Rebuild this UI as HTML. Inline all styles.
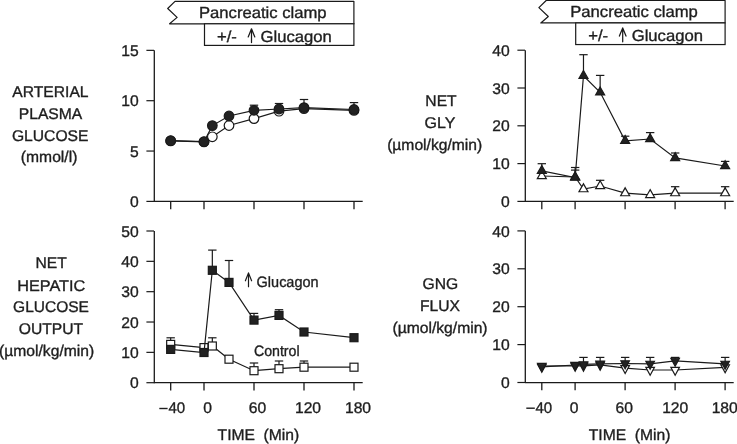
<!DOCTYPE html>
<html><head><meta charset="utf-8"><title>Pancreatic clamp figure</title>
<style>
html,body{margin:0;padding:0;background:#fff;}
body{width:737px;height:444px;overflow:hidden;}
svg{display:block;will-change:transform;font-family:"Liberation Sans", sans-serif;text-rendering:geometricPrecision;}
text{stroke:#1e1e1e;stroke-width:0.35px;}
</style></head>
<body>
<svg width="737" height="444" viewBox="0 0 737 444">
<rect width="737" height="444" fill="#fff"/>
<path d="M175.00,1.35 L353.90,1.35 L353.90,23.80 L169.60,23.80 L177.10,17.40 L167.70,8.50 Z" fill="#fff" stroke="#1a1a1a" stroke-width="1.2" stroke-linejoin="round"/>
<rect x="204.50" y="23.80" width="149.40" height="21.60" fill="#fff" stroke="#1a1a1a" stroke-width="1.2"/>
<text x="0" y="0" transform="translate(199.00,17.60) scale(1.04,1)" font-size="16.0" text-anchor="start" fill="#1e1e1e">Pancreatic clamp</text>
<text x="0" y="0" transform="translate(217.00,41.60) scale(1.04,1)" font-size="16.0" text-anchor="start" fill="#1e1e1e">+/-</text>
<path d="M251.50,42.60 L251.50,29.40 M248.20,36.90 L251.50,28.80 L254.80,36.90" fill="none" stroke="#1a1a1a" stroke-width="1.25" stroke-linejoin="round" stroke-linecap="round"/>
<text x="0" y="0" transform="translate(260.50,41.60) scale(1.04,1)" font-size="16.0" text-anchor="start" fill="#1e1e1e">Glucagon</text>
<path d="M546.20,0.50 L725.10,0.50 L725.10,22.95 L540.80,22.95 L548.30,16.55 L538.90,7.65 Z" fill="#fff" stroke="#1a1a1a" stroke-width="1.2" stroke-linejoin="round"/>
<rect x="575.70" y="22.95" width="149.40" height="21.60" fill="#fff" stroke="#1a1a1a" stroke-width="1.2"/>
<text x="0" y="0" transform="translate(570.20,16.75) scale(1.04,1)" font-size="16.0" text-anchor="start" fill="#1e1e1e">Pancreatic clamp</text>
<text x="0" y="0" transform="translate(588.20,40.75) scale(1.04,1)" font-size="16.0" text-anchor="start" fill="#1e1e1e">+/-</text>
<path d="M622.70,41.75 L622.70,28.55 M619.40,36.05 L622.70,27.95 L626.00,36.05" fill="none" stroke="#1a1a1a" stroke-width="1.25" stroke-linejoin="round" stroke-linecap="round"/>
<text x="0" y="0" transform="translate(631.70,40.75) scale(1.04,1)" font-size="16.0" text-anchor="start" fill="#1e1e1e">Glucagon</text>
<line x1="154.30" y1="50.35" x2="154.30" y2="202.00" stroke="#1a1a1a" stroke-width="1.3"/>
<line x1="154.00" y1="201.40" x2="362.70" y2="201.40" stroke="#1a1a1a" stroke-width="1.25"/>
<line x1="146.40" y1="201.40" x2="154.00" y2="201.40" stroke="#1a1a1a" stroke-width="1.2"/>
<text x="0" y="0" transform="translate(138.70,207.00) scale(1.01,1)" font-size="15.5" text-anchor="end" fill="#1e1e1e">0</text>
<line x1="146.40" y1="151.05" x2="154.00" y2="151.05" stroke="#1a1a1a" stroke-width="1.2"/>
<text x="0" y="0" transform="translate(138.70,156.65) scale(1.01,1)" font-size="15.5" text-anchor="end" fill="#1e1e1e">5</text>
<line x1="146.40" y1="100.70" x2="154.00" y2="100.70" stroke="#1a1a1a" stroke-width="1.2"/>
<text x="0" y="0" transform="translate(138.70,106.30) scale(1.01,1)" font-size="15.5" text-anchor="end" fill="#1e1e1e">10</text>
<line x1="146.40" y1="50.35" x2="154.00" y2="50.35" stroke="#1a1a1a" stroke-width="1.2"/>
<text x="0" y="0" transform="translate(138.70,55.95) scale(1.01,1)" font-size="15.5" text-anchor="end" fill="#1e1e1e">15</text>
<line x1="170.70" y1="201.40" x2="170.70" y2="209.20" stroke="#1a1a1a" stroke-width="1.3"/>
<line x1="204.00" y1="201.40" x2="204.00" y2="209.20" stroke="#1a1a1a" stroke-width="1.3"/>
<line x1="254.00" y1="201.40" x2="254.00" y2="209.20" stroke="#1a1a1a" stroke-width="1.3"/>
<line x1="304.00" y1="201.40" x2="304.00" y2="209.20" stroke="#1a1a1a" stroke-width="1.3"/>
<line x1="354.00" y1="201.40" x2="354.00" y2="209.20" stroke="#1a1a1a" stroke-width="1.3"/>
<line x1="154.30" y1="231.00" x2="154.30" y2="383.30" stroke="#1a1a1a" stroke-width="1.3"/>
<line x1="154.00" y1="382.70" x2="362.70" y2="382.70" stroke="#1a1a1a" stroke-width="1.25"/>
<line x1="146.40" y1="382.70" x2="154.00" y2="382.70" stroke="#1a1a1a" stroke-width="1.2"/>
<text x="0" y="0" transform="translate(138.70,388.30) scale(1.01,1)" font-size="15.5" text-anchor="end" fill="#1e1e1e">0</text>
<line x1="146.40" y1="352.36" x2="154.00" y2="352.36" stroke="#1a1a1a" stroke-width="1.2"/>
<text x="0" y="0" transform="translate(138.70,357.96) scale(1.01,1)" font-size="15.5" text-anchor="end" fill="#1e1e1e">10</text>
<line x1="146.40" y1="322.02" x2="154.00" y2="322.02" stroke="#1a1a1a" stroke-width="1.2"/>
<text x="0" y="0" transform="translate(138.70,327.62) scale(1.01,1)" font-size="15.5" text-anchor="end" fill="#1e1e1e">20</text>
<line x1="146.40" y1="291.68" x2="154.00" y2="291.68" stroke="#1a1a1a" stroke-width="1.2"/>
<text x="0" y="0" transform="translate(138.70,297.28) scale(1.01,1)" font-size="15.5" text-anchor="end" fill="#1e1e1e">30</text>
<line x1="146.40" y1="261.34" x2="154.00" y2="261.34" stroke="#1a1a1a" stroke-width="1.2"/>
<text x="0" y="0" transform="translate(138.70,266.94) scale(1.01,1)" font-size="15.5" text-anchor="end" fill="#1e1e1e">40</text>
<line x1="146.40" y1="231.00" x2="154.00" y2="231.00" stroke="#1a1a1a" stroke-width="1.2"/>
<text x="0" y="0" transform="translate(138.70,236.60) scale(1.01,1)" font-size="15.5" text-anchor="end" fill="#1e1e1e">50</text>
<line x1="170.70" y1="382.70" x2="170.70" y2="390.50" stroke="#1a1a1a" stroke-width="1.3"/>
<line x1="204.00" y1="382.70" x2="204.00" y2="390.50" stroke="#1a1a1a" stroke-width="1.3"/>
<line x1="254.00" y1="382.70" x2="254.00" y2="390.50" stroke="#1a1a1a" stroke-width="1.3"/>
<line x1="304.00" y1="382.70" x2="304.00" y2="390.50" stroke="#1a1a1a" stroke-width="1.3"/>
<line x1="354.00" y1="382.70" x2="354.00" y2="390.50" stroke="#1a1a1a" stroke-width="1.3"/>
<line x1="525.30" y1="50.20" x2="525.30" y2="202.00" stroke="#1a1a1a" stroke-width="1.3"/>
<line x1="525.00" y1="201.40" x2="733.70" y2="201.40" stroke="#1a1a1a" stroke-width="1.25"/>
<line x1="517.40" y1="201.40" x2="525.00" y2="201.40" stroke="#1a1a1a" stroke-width="1.2"/>
<text x="0" y="0" transform="translate(509.70,207.00) scale(1.01,1)" font-size="15.5" text-anchor="end" fill="#1e1e1e">0</text>
<line x1="517.40" y1="163.60" x2="525.00" y2="163.60" stroke="#1a1a1a" stroke-width="1.2"/>
<text x="0" y="0" transform="translate(509.70,169.20) scale(1.01,1)" font-size="15.5" text-anchor="end" fill="#1e1e1e">10</text>
<line x1="517.40" y1="125.80" x2="525.00" y2="125.80" stroke="#1a1a1a" stroke-width="1.2"/>
<text x="0" y="0" transform="translate(509.70,131.40) scale(1.01,1)" font-size="15.5" text-anchor="end" fill="#1e1e1e">20</text>
<line x1="517.40" y1="88.00" x2="525.00" y2="88.00" stroke="#1a1a1a" stroke-width="1.2"/>
<text x="0" y="0" transform="translate(509.70,93.60) scale(1.01,1)" font-size="15.5" text-anchor="end" fill="#1e1e1e">30</text>
<line x1="517.40" y1="50.20" x2="525.00" y2="50.20" stroke="#1a1a1a" stroke-width="1.2"/>
<text x="0" y="0" transform="translate(509.70,55.80) scale(1.01,1)" font-size="15.5" text-anchor="end" fill="#1e1e1e">40</text>
<line x1="541.80" y1="201.40" x2="541.80" y2="209.20" stroke="#1a1a1a" stroke-width="1.3"/>
<line x1="575.10" y1="201.40" x2="575.10" y2="209.20" stroke="#1a1a1a" stroke-width="1.3"/>
<line x1="625.10" y1="201.40" x2="625.10" y2="209.20" stroke="#1a1a1a" stroke-width="1.3"/>
<line x1="675.10" y1="201.40" x2="675.10" y2="209.20" stroke="#1a1a1a" stroke-width="1.3"/>
<line x1="725.10" y1="201.40" x2="725.10" y2="209.20" stroke="#1a1a1a" stroke-width="1.3"/>
<line x1="525.30" y1="230.80" x2="525.30" y2="383.10" stroke="#1a1a1a" stroke-width="1.3"/>
<line x1="525.00" y1="382.50" x2="733.70" y2="382.50" stroke="#1a1a1a" stroke-width="1.25"/>
<line x1="517.40" y1="382.50" x2="525.00" y2="382.50" stroke="#1a1a1a" stroke-width="1.2"/>
<text x="0" y="0" transform="translate(509.70,388.10) scale(1.01,1)" font-size="15.5" text-anchor="end" fill="#1e1e1e">0</text>
<line x1="517.40" y1="344.60" x2="525.00" y2="344.60" stroke="#1a1a1a" stroke-width="1.2"/>
<text x="0" y="0" transform="translate(509.70,350.20) scale(1.01,1)" font-size="15.5" text-anchor="end" fill="#1e1e1e">10</text>
<line x1="517.40" y1="306.70" x2="525.00" y2="306.70" stroke="#1a1a1a" stroke-width="1.2"/>
<text x="0" y="0" transform="translate(509.70,312.30) scale(1.01,1)" font-size="15.5" text-anchor="end" fill="#1e1e1e">20</text>
<line x1="517.40" y1="268.80" x2="525.00" y2="268.80" stroke="#1a1a1a" stroke-width="1.2"/>
<text x="0" y="0" transform="translate(509.70,274.40) scale(1.01,1)" font-size="15.5" text-anchor="end" fill="#1e1e1e">30</text>
<line x1="517.40" y1="230.90" x2="525.00" y2="230.90" stroke="#1a1a1a" stroke-width="1.2"/>
<text x="0" y="0" transform="translate(509.70,236.50) scale(1.01,1)" font-size="15.5" text-anchor="end" fill="#1e1e1e">40</text>
<line x1="541.80" y1="382.50" x2="541.80" y2="390.30" stroke="#1a1a1a" stroke-width="1.3"/>
<line x1="575.10" y1="382.50" x2="575.10" y2="390.30" stroke="#1a1a1a" stroke-width="1.3"/>
<line x1="625.10" y1="382.50" x2="625.10" y2="390.30" stroke="#1a1a1a" stroke-width="1.3"/>
<line x1="675.10" y1="382.50" x2="675.10" y2="390.30" stroke="#1a1a1a" stroke-width="1.3"/>
<line x1="725.10" y1="382.50" x2="725.10" y2="390.30" stroke="#1a1a1a" stroke-width="1.3"/>
<rect x="159.30" y="407.80" width="8.30" height="1.4" fill="#1e1e1e"/>
<text x="0" y="0" transform="translate(168.40,413.20) scale(0.97,1)" font-size="15.5" text-anchor="start" fill="#1e1e1e">40</text>
<text x="0" y="0" transform="translate(207.50,413.20) scale(1.01,1)" font-size="15.5" text-anchor="middle" fill="#1e1e1e">0</text>
<text x="0" y="0" transform="translate(257.50,413.20) scale(1.01,1)" font-size="15.5" text-anchor="middle" fill="#1e1e1e">60</text>
<text x="0" y="0" transform="translate(308.00,413.20) scale(1.01,1)" font-size="15.5" text-anchor="middle" fill="#1e1e1e">120</text>
<text x="0" y="0" transform="translate(358.00,413.20) scale(1.01,1)" font-size="15.5" text-anchor="middle" fill="#1e1e1e">180</text>
<text x="0" y="0" transform="translate(217.60,439.60) scale(1.01,1)" font-size="15.5" text-anchor="start" fill="#1e1e1e">TIME</text>
<text x="0" y="0" transform="translate(263.60,439.60) scale(1.01,1)" font-size="15.5" text-anchor="start" fill="#1e1e1e">(Min)</text>
<rect x="526.30" y="407.50" width="8.50" height="1.4" fill="#1e1e1e"/>
<text x="0" y="0" transform="translate(535.40,413.20) scale(0.97,1)" font-size="15.5" text-anchor="start" fill="#1e1e1e">40</text>
<text x="0" y="0" transform="translate(574.20,413.20) scale(1.01,1)" font-size="15.5" text-anchor="middle" fill="#1e1e1e">0</text>
<text x="0" y="0" transform="translate(624.20,413.20) scale(1.01,1)" font-size="15.5" text-anchor="middle" fill="#1e1e1e">60</text>
<text x="0" y="0" transform="translate(675.20,413.20) scale(1.01,1)" font-size="15.5" text-anchor="middle" fill="#1e1e1e">120</text>
<text x="0" y="0" transform="translate(724.70,413.20) scale(1.01,1)" font-size="15.5" text-anchor="middle" fill="#1e1e1e">180</text>
<text x="0" y="0" transform="translate(588.80,439.60) scale(1.01,1)" font-size="15.5" text-anchor="start" fill="#1e1e1e">TIME</text>
<text x="0" y="0" transform="translate(634.80,439.60) scale(1.01,1)" font-size="15.5" text-anchor="start" fill="#1e1e1e">(Min)</text>
<text x="0" y="0" transform="translate(50.40,97.10) scale(1.01,1)" font-size="15.5" text-anchor="middle" fill="#1e1e1e">ARTERIAL</text>
<text x="0" y="0" transform="translate(50.50,119.00) scale(1.01,1)" font-size="15.5" text-anchor="middle" fill="#1e1e1e">PLASMA</text>
<text x="0" y="0" transform="translate(50.20,140.50) scale(1.01,1)" font-size="15.5" text-anchor="middle" fill="#1e1e1e">GLUCOSE</text>
<text x="0" y="0" transform="translate(49.10,162.30) scale(1.01,1)" font-size="15.5" text-anchor="middle" fill="#1e1e1e">(mmol/l)</text>
<text x="0" y="0" transform="translate(51.20,268.40) scale(1.01,1)" font-size="15.5" text-anchor="middle" fill="#1e1e1e">NET</text>
<text x="0" y="0" transform="translate(51.20,290.50) scale(1.05,1)" font-size="15.5" text-anchor="middle" fill="#1e1e1e">HEPATIC</text>
<text x="51.00" y="312.40" font-size="15.5" text-anchor="middle" fill="#1e1e1e">GLUCOSE</text>
<text x="0" y="0" transform="translate(51.00,334.00) scale(1.01,1)" font-size="15.5" text-anchor="middle" fill="#1e1e1e">OUTPUT</text>
<text x="0" y="0" transform="translate(46.60,356.30) scale(1.01,1)" font-size="15.5" text-anchor="middle" fill="#1e1e1e">(µmol/kg/min)</text>
<text x="0" y="0" transform="translate(441.00,106.00) scale(1.01,1)" font-size="15.5" text-anchor="middle" fill="#1e1e1e">NET</text>
<text x="0" y="0" transform="translate(440.00,128.30) scale(1.03,1)" font-size="15.5" text-anchor="middle" fill="#1e1e1e">GLY</text>
<text x="0" y="0" transform="translate(434.70,150.20) scale(1.01,1)" font-size="15.5" text-anchor="middle" fill="#1e1e1e">(µmol/kg/min)</text>
<text x="0" y="0" transform="translate(440.30,288.90) scale(1.01,1)" font-size="15.5" text-anchor="middle" fill="#1e1e1e">GNG</text>
<text x="0" y="0" transform="translate(440.00,310.80) scale(1.01,1)" font-size="15.5" text-anchor="middle" fill="#1e1e1e">FLUX</text>
<text x="0" y="0" transform="translate(440.00,332.70) scale(1.01,1)" font-size="15.5" text-anchor="middle" fill="#1e1e1e">(µmol/kg/min)</text>
<path d="M248.5,286.7 L248.5,273.4 M245.4,280.8 L248.5,272.9 L251.6,280.8" fill="none" stroke="#1a1a1a" stroke-width="1.2" stroke-linejoin="round" stroke-linecap="round"/>
<text x="0" y="0" transform="translate(256.60,286.90) scale(0.965,1)" font-size="15.0" text-anchor="start" fill="#1e1e1e">Glucagon</text>
<text x="0" y="0" transform="translate(253.90,355.60) scale(0.945,1)" font-size="15.0" text-anchor="start" fill="#1e1e1e">Control</text>
<polyline points="170.67,140.90 204.00,141.90 212.33,136.80 229.00,125.50 254.00,118.60 279.00,111.20 304.00,108.60 353.99,110.40" fill="none" stroke="#1a1a1a" stroke-width="1.2"/>
<polyline points="170.67,140.70 204.00,141.70 212.33,125.60 229.00,116.00 254.00,110.30 279.00,109.00 304.00,107.60 353.99,109.50" fill="none" stroke="#1a1a1a" stroke-width="1.2"/>
<line x1="254.00" y1="110.30" x2="254.00" y2="105.20" stroke="#1a1a1a" stroke-width="1.2"/>
<line x1="249.80" y1="105.20" x2="258.20" y2="105.20" stroke="#1a1a1a" stroke-width="1.2"/>
<line x1="279.00" y1="109.00" x2="279.00" y2="103.50" stroke="#1a1a1a" stroke-width="1.2"/>
<line x1="274.80" y1="103.50" x2="283.20" y2="103.50" stroke="#1a1a1a" stroke-width="1.2"/>
<line x1="304.00" y1="107.60" x2="304.00" y2="99.50" stroke="#1a1a1a" stroke-width="1.2"/>
<line x1="299.80" y1="99.50" x2="308.20" y2="99.50" stroke="#1a1a1a" stroke-width="1.2"/>
<line x1="353.99" y1="109.50" x2="353.99" y2="102.60" stroke="#1a1a1a" stroke-width="1.2"/>
<line x1="349.79" y1="102.60" x2="358.19" y2="102.60" stroke="#1a1a1a" stroke-width="1.2"/>
<circle cx="170.67" cy="140.90" r="4.8" fill="#fff" stroke="#1a1a1a" stroke-width="1.2"/>
<circle cx="204.00" cy="141.90" r="4.8" fill="#fff" stroke="#1a1a1a" stroke-width="1.2"/>
<circle cx="212.33" cy="136.80" r="4.8" fill="#fff" stroke="#1a1a1a" stroke-width="1.2"/>
<circle cx="229.00" cy="125.50" r="4.8" fill="#fff" stroke="#1a1a1a" stroke-width="1.2"/>
<circle cx="254.00" cy="118.60" r="4.8" fill="#fff" stroke="#1a1a1a" stroke-width="1.2"/>
<circle cx="279.00" cy="111.20" r="4.8" fill="#fff" stroke="#1a1a1a" stroke-width="1.2"/>
<circle cx="304.00" cy="108.60" r="4.8" fill="#fff" stroke="#1a1a1a" stroke-width="1.2"/>
<circle cx="353.99" cy="110.40" r="4.8" fill="#fff" stroke="#1a1a1a" stroke-width="1.2"/>
<circle cx="170.67" cy="140.70" r="4.8" fill="#222" stroke="#1a1a1a" stroke-width="1.2"/>
<circle cx="204.00" cy="141.70" r="4.8" fill="#222" stroke="#1a1a1a" stroke-width="1.2"/>
<circle cx="212.33" cy="125.60" r="4.8" fill="#222" stroke="#1a1a1a" stroke-width="1.2"/>
<circle cx="229.00" cy="116.00" r="4.8" fill="#222" stroke="#1a1a1a" stroke-width="1.2"/>
<circle cx="254.00" cy="110.30" r="4.8" fill="#222" stroke="#1a1a1a" stroke-width="1.2"/>
<circle cx="279.00" cy="109.00" r="4.8" fill="#222" stroke="#1a1a1a" stroke-width="1.2"/>
<circle cx="304.00" cy="107.60" r="4.8" fill="#222" stroke="#1a1a1a" stroke-width="1.2"/>
<circle cx="353.99" cy="109.50" r="4.8" fill="#222" stroke="#1a1a1a" stroke-width="1.2"/>
<polyline points="170.67,344.40 204.00,347.60 212.33,346.00 229.00,359.20 254.00,370.70 279.00,368.70 304.00,367.20 353.99,367.20" fill="none" stroke="#1a1a1a" stroke-width="1.2"/>
<line x1="170.67" y1="344.40" x2="170.67" y2="337.80" stroke="#1a1a1a" stroke-width="1.2"/>
<line x1="166.47" y1="337.80" x2="174.87" y2="337.80" stroke="#1a1a1a" stroke-width="1.2"/>
<line x1="212.33" y1="346.00" x2="212.33" y2="337.80" stroke="#1a1a1a" stroke-width="1.2"/>
<line x1="208.13" y1="337.80" x2="216.53" y2="337.80" stroke="#1a1a1a" stroke-width="1.2"/>
<line x1="254.00" y1="370.70" x2="254.00" y2="363.00" stroke="#1a1a1a" stroke-width="1.2"/>
<line x1="249.80" y1="363.00" x2="258.20" y2="363.00" stroke="#1a1a1a" stroke-width="1.2"/>
<line x1="279.00" y1="368.70" x2="279.00" y2="361.00" stroke="#1a1a1a" stroke-width="1.2"/>
<line x1="274.80" y1="361.00" x2="283.20" y2="361.00" stroke="#1a1a1a" stroke-width="1.2"/>
<line x1="304.00" y1="367.20" x2="304.00" y2="361.00" stroke="#1a1a1a" stroke-width="1.2"/>
<line x1="299.80" y1="361.00" x2="308.20" y2="361.00" stroke="#1a1a1a" stroke-width="1.2"/>
<rect x="166.67" y="340.40" width="8.0" height="8.0" fill="#fff" stroke="#1a1a1a" stroke-width="1.2"/>
<rect x="200.00" y="343.60" width="8.0" height="8.0" fill="#fff" stroke="#1a1a1a" stroke-width="1.2"/>
<rect x="208.33" y="342.00" width="8.0" height="8.0" fill="#fff" stroke="#1a1a1a" stroke-width="1.2"/>
<rect x="225.00" y="355.20" width="8.0" height="8.0" fill="#fff" stroke="#1a1a1a" stroke-width="1.2"/>
<rect x="250.00" y="366.70" width="8.0" height="8.0" fill="#fff" stroke="#1a1a1a" stroke-width="1.2"/>
<rect x="275.00" y="364.70" width="8.0" height="8.0" fill="#fff" stroke="#1a1a1a" stroke-width="1.2"/>
<rect x="300.00" y="363.20" width="8.0" height="8.0" fill="#fff" stroke="#1a1a1a" stroke-width="1.2"/>
<rect x="349.99" y="363.20" width="8.0" height="8.0" fill="#fff" stroke="#1a1a1a" stroke-width="1.2"/>
<polyline points="170.67,349.40 204.00,352.50 212.33,270.30 229.00,282.40 254.00,320.10 279.00,315.40 304.00,332.00 353.99,337.70" fill="none" stroke="#1a1a1a" stroke-width="1.2"/>
<line x1="212.33" y1="270.30" x2="212.33" y2="250.10" stroke="#1a1a1a" stroke-width="1.2"/>
<line x1="208.13" y1="250.10" x2="216.53" y2="250.10" stroke="#1a1a1a" stroke-width="1.2"/>
<line x1="229.00" y1="282.40" x2="229.00" y2="260.50" stroke="#1a1a1a" stroke-width="1.2"/>
<line x1="224.80" y1="260.50" x2="233.20" y2="260.50" stroke="#1a1a1a" stroke-width="1.2"/>
<line x1="254.00" y1="320.10" x2="254.00" y2="313.40" stroke="#1a1a1a" stroke-width="1.2"/>
<line x1="249.80" y1="313.40" x2="258.20" y2="313.40" stroke="#1a1a1a" stroke-width="1.2"/>
<line x1="279.00" y1="315.40" x2="279.00" y2="309.70" stroke="#1a1a1a" stroke-width="1.2"/>
<line x1="274.80" y1="309.70" x2="283.20" y2="309.70" stroke="#1a1a1a" stroke-width="1.2"/>
<rect x="166.67" y="345.40" width="8.0" height="8.0" fill="#222" stroke="#1a1a1a" stroke-width="1.2"/>
<rect x="200.00" y="348.50" width="8.0" height="8.0" fill="#222" stroke="#1a1a1a" stroke-width="1.2"/>
<rect x="208.33" y="266.30" width="8.0" height="8.0" fill="#222" stroke="#1a1a1a" stroke-width="1.2"/>
<rect x="225.00" y="278.40" width="8.0" height="8.0" fill="#222" stroke="#1a1a1a" stroke-width="1.2"/>
<rect x="250.00" y="316.10" width="8.0" height="8.0" fill="#222" stroke="#1a1a1a" stroke-width="1.2"/>
<rect x="275.00" y="311.40" width="8.0" height="8.0" fill="#222" stroke="#1a1a1a" stroke-width="1.2"/>
<rect x="300.00" y="328.00" width="8.0" height="8.0" fill="#222" stroke="#1a1a1a" stroke-width="1.2"/>
<rect x="349.99" y="333.70" width="8.0" height="8.0" fill="#222" stroke="#1a1a1a" stroke-width="1.2"/>
<polyline points="541.82,176.00 575.15,177.00 583.48,189.10 600.15,186.00 625.15,193.10 650.15,194.90 675.15,193.10 725.14,193.10" fill="none" stroke="#1a1a1a" stroke-width="1.2"/>
<line x1="575.15" y1="177.00" x2="575.15" y2="170.10" stroke="#1a1a1a" stroke-width="1.2"/>
<line x1="570.95" y1="170.10" x2="579.35" y2="170.10" stroke="#1a1a1a" stroke-width="1.2"/>
<line x1="600.15" y1="186.00" x2="600.15" y2="180.30" stroke="#1a1a1a" stroke-width="1.2"/>
<line x1="595.95" y1="180.30" x2="604.35" y2="180.30" stroke="#1a1a1a" stroke-width="1.2"/>
<line x1="675.15" y1="193.10" x2="675.15" y2="186.70" stroke="#1a1a1a" stroke-width="1.2"/>
<line x1="670.95" y1="186.70" x2="679.35" y2="186.70" stroke="#1a1a1a" stroke-width="1.2"/>
<line x1="725.14" y1="193.10" x2="725.14" y2="186.70" stroke="#1a1a1a" stroke-width="1.2"/>
<line x1="720.94" y1="186.70" x2="729.34" y2="186.70" stroke="#1a1a1a" stroke-width="1.2"/>
<path d="M541.82,170.73 L546.32,178.63 L537.32,178.63 Z" fill="#fff" stroke="#1a1a1a" stroke-width="1.2" stroke-linejoin="miter"/>
<path d="M575.15,171.73 L579.65,179.63 L570.65,179.63 Z" fill="#fff" stroke="#1a1a1a" stroke-width="1.2" stroke-linejoin="miter"/>
<path d="M583.48,183.83 L587.98,191.73 L578.98,191.73 Z" fill="#fff" stroke="#1a1a1a" stroke-width="1.2" stroke-linejoin="miter"/>
<path d="M600.15,180.73 L604.65,188.63 L595.65,188.63 Z" fill="#fff" stroke="#1a1a1a" stroke-width="1.2" stroke-linejoin="miter"/>
<path d="M625.15,187.83 L629.65,195.73 L620.65,195.73 Z" fill="#fff" stroke="#1a1a1a" stroke-width="1.2" stroke-linejoin="miter"/>
<path d="M650.15,189.63 L654.65,197.53 L645.65,197.53 Z" fill="#fff" stroke="#1a1a1a" stroke-width="1.2" stroke-linejoin="miter"/>
<path d="M675.15,187.83 L679.65,195.73 L670.65,195.73 Z" fill="#fff" stroke="#1a1a1a" stroke-width="1.2" stroke-linejoin="miter"/>
<path d="M725.14,187.83 L729.64,195.73 L720.64,195.73 Z" fill="#fff" stroke="#1a1a1a" stroke-width="1.2" stroke-linejoin="miter"/>
<polyline points="541.82,170.80 575.15,177.50 583.48,75.80 600.15,92.30 625.15,140.80 650.15,139.00 675.15,157.90 725.14,166.00" fill="none" stroke="#1a1a1a" stroke-width="1.2"/>
<line x1="541.82" y1="170.80" x2="541.82" y2="163.70" stroke="#1a1a1a" stroke-width="1.2"/>
<line x1="537.62" y1="163.70" x2="546.02" y2="163.70" stroke="#1a1a1a" stroke-width="1.2"/>
<line x1="575.15" y1="177.50" x2="575.15" y2="167.50" stroke="#1a1a1a" stroke-width="1.2"/>
<line x1="570.95" y1="167.50" x2="579.35" y2="167.50" stroke="#1a1a1a" stroke-width="1.2"/>
<line x1="583.48" y1="75.80" x2="583.48" y2="54.70" stroke="#1a1a1a" stroke-width="1.2"/>
<line x1="579.28" y1="54.70" x2="587.68" y2="54.70" stroke="#1a1a1a" stroke-width="1.2"/>
<line x1="600.15" y1="92.30" x2="600.15" y2="75.40" stroke="#1a1a1a" stroke-width="1.2"/>
<line x1="595.95" y1="75.40" x2="604.35" y2="75.40" stroke="#1a1a1a" stroke-width="1.2"/>
<line x1="625.15" y1="140.80" x2="625.15" y2="136.20" stroke="#1a1a1a" stroke-width="1.2"/>
<line x1="620.95" y1="136.20" x2="629.35" y2="136.20" stroke="#1a1a1a" stroke-width="1.2"/>
<line x1="650.15" y1="139.00" x2="650.15" y2="132.60" stroke="#1a1a1a" stroke-width="1.2"/>
<line x1="645.95" y1="132.60" x2="654.35" y2="132.60" stroke="#1a1a1a" stroke-width="1.2"/>
<line x1="675.15" y1="157.90" x2="675.15" y2="153.00" stroke="#1a1a1a" stroke-width="1.2"/>
<line x1="670.95" y1="153.00" x2="679.35" y2="153.00" stroke="#1a1a1a" stroke-width="1.2"/>
<line x1="725.14" y1="166.00" x2="725.14" y2="161.40" stroke="#1a1a1a" stroke-width="1.2"/>
<line x1="720.94" y1="161.40" x2="729.34" y2="161.40" stroke="#1a1a1a" stroke-width="1.2"/>
<path d="M541.82,165.53 L546.32,173.43 L537.32,173.43 Z" fill="#222" stroke="#1a1a1a" stroke-width="1.2" stroke-linejoin="miter"/>
<path d="M575.15,172.23 L579.65,180.13 L570.65,180.13 Z" fill="#222" stroke="#1a1a1a" stroke-width="1.2" stroke-linejoin="miter"/>
<path d="M583.48,70.53 L587.98,78.43 L578.98,78.43 Z" fill="#222" stroke="#1a1a1a" stroke-width="1.2" stroke-linejoin="miter"/>
<path d="M600.15,87.03 L604.65,94.93 L595.65,94.93 Z" fill="#222" stroke="#1a1a1a" stroke-width="1.2" stroke-linejoin="miter"/>
<path d="M625.15,135.53 L629.65,143.43 L620.65,143.43 Z" fill="#222" stroke="#1a1a1a" stroke-width="1.2" stroke-linejoin="miter"/>
<path d="M650.15,133.73 L654.65,141.63 L645.65,141.63 Z" fill="#222" stroke="#1a1a1a" stroke-width="1.2" stroke-linejoin="miter"/>
<path d="M675.15,152.63 L679.65,160.53 L670.65,160.53 Z" fill="#222" stroke="#1a1a1a" stroke-width="1.2" stroke-linejoin="miter"/>
<path d="M725.14,160.73 L729.64,168.63 L720.64,168.63 Z" fill="#222" stroke="#1a1a1a" stroke-width="1.2" stroke-linejoin="miter"/>
<polyline points="541.82,366.00 575.15,365.80 583.48,365.80 600.15,364.80 625.15,368.20 650.15,370.00 675.15,370.00 725.14,367.40" fill="none" stroke="#1a1a1a" stroke-width="1.2"/>
<path d="M541.82,371.33 L546.12,363.33 L537.52,363.33 Z" fill="#fff" stroke="#1a1a1a" stroke-width="1.2" stroke-linejoin="miter"/>
<path d="M575.15,371.13 L579.45,363.13 L570.85,363.13 Z" fill="#fff" stroke="#1a1a1a" stroke-width="1.2" stroke-linejoin="miter"/>
<path d="M583.48,371.13 L587.78,363.13 L579.18,363.13 Z" fill="#fff" stroke="#1a1a1a" stroke-width="1.2" stroke-linejoin="miter"/>
<path d="M600.15,370.13 L604.45,362.13 L595.85,362.13 Z" fill="#fff" stroke="#1a1a1a" stroke-width="1.2" stroke-linejoin="miter"/>
<path d="M625.15,373.53 L629.45,365.53 L620.85,365.53 Z" fill="#fff" stroke="#1a1a1a" stroke-width="1.2" stroke-linejoin="miter"/>
<path d="M650.15,375.33 L654.45,367.33 L645.85,367.33 Z" fill="#fff" stroke="#1a1a1a" stroke-width="1.2" stroke-linejoin="miter"/>
<path d="M675.15,375.33 L679.45,367.33 L670.85,367.33 Z" fill="#fff" stroke="#1a1a1a" stroke-width="1.2" stroke-linejoin="miter"/>
<path d="M725.14,372.73 L729.44,364.73 L720.84,364.73 Z" fill="#fff" stroke="#1a1a1a" stroke-width="1.2" stroke-linejoin="miter"/>
<polyline points="541.82,366.90 575.15,365.00 583.48,364.40 600.15,363.80 625.15,363.50 650.15,363.90 675.15,360.90 725.14,363.90" fill="none" stroke="#1a1a1a" stroke-width="1.2"/>
<line x1="583.48" y1="364.40" x2="583.48" y2="357.40" stroke="#1a1a1a" stroke-width="1.2"/>
<line x1="579.28" y1="357.40" x2="587.68" y2="357.40" stroke="#1a1a1a" stroke-width="1.2"/>
<line x1="600.15" y1="363.80" x2="600.15" y2="357.40" stroke="#1a1a1a" stroke-width="1.2"/>
<line x1="595.95" y1="357.40" x2="604.35" y2="357.40" stroke="#1a1a1a" stroke-width="1.2"/>
<line x1="625.15" y1="363.50" x2="625.15" y2="357.40" stroke="#1a1a1a" stroke-width="1.2"/>
<line x1="620.95" y1="357.40" x2="629.35" y2="357.40" stroke="#1a1a1a" stroke-width="1.2"/>
<line x1="650.15" y1="363.90" x2="650.15" y2="357.40" stroke="#1a1a1a" stroke-width="1.2"/>
<line x1="645.95" y1="357.40" x2="654.35" y2="357.40" stroke="#1a1a1a" stroke-width="1.2"/>
<line x1="675.15" y1="360.90" x2="675.15" y2="357.40" stroke="#1a1a1a" stroke-width="1.2"/>
<line x1="670.95" y1="357.40" x2="679.35" y2="357.40" stroke="#1a1a1a" stroke-width="1.2"/>
<line x1="725.14" y1="363.90" x2="725.14" y2="357.40" stroke="#1a1a1a" stroke-width="1.2"/>
<line x1="720.94" y1="357.40" x2="729.34" y2="357.40" stroke="#1a1a1a" stroke-width="1.2"/>
<path d="M541.82,372.23 L546.12,364.23 L537.52,364.23 Z" fill="#222" stroke="#1a1a1a" stroke-width="1.2" stroke-linejoin="miter"/>
<path d="M575.15,370.33 L579.45,362.33 L570.85,362.33 Z" fill="#222" stroke="#1a1a1a" stroke-width="1.2" stroke-linejoin="miter"/>
<path d="M583.48,369.73 L587.78,361.73 L579.18,361.73 Z" fill="#222" stroke="#1a1a1a" stroke-width="1.2" stroke-linejoin="miter"/>
<path d="M600.15,369.13 L604.45,361.13 L595.85,361.13 Z" fill="#222" stroke="#1a1a1a" stroke-width="1.2" stroke-linejoin="miter"/>
<path d="M625.15,368.83 L629.45,360.83 L620.85,360.83 Z" fill="#222" stroke="#1a1a1a" stroke-width="1.2" stroke-linejoin="miter"/>
<path d="M650.15,369.23 L654.45,361.23 L645.85,361.23 Z" fill="#222" stroke="#1a1a1a" stroke-width="1.2" stroke-linejoin="miter"/>
<path d="M675.15,366.23 L679.45,358.23 L670.85,358.23 Z" fill="#222" stroke="#1a1a1a" stroke-width="1.2" stroke-linejoin="miter"/>
<path d="M725.14,369.23 L729.44,361.23 L720.84,361.23 Z" fill="#222" stroke="#1a1a1a" stroke-width="1.2" stroke-linejoin="miter"/>
</svg>
</body></html>
